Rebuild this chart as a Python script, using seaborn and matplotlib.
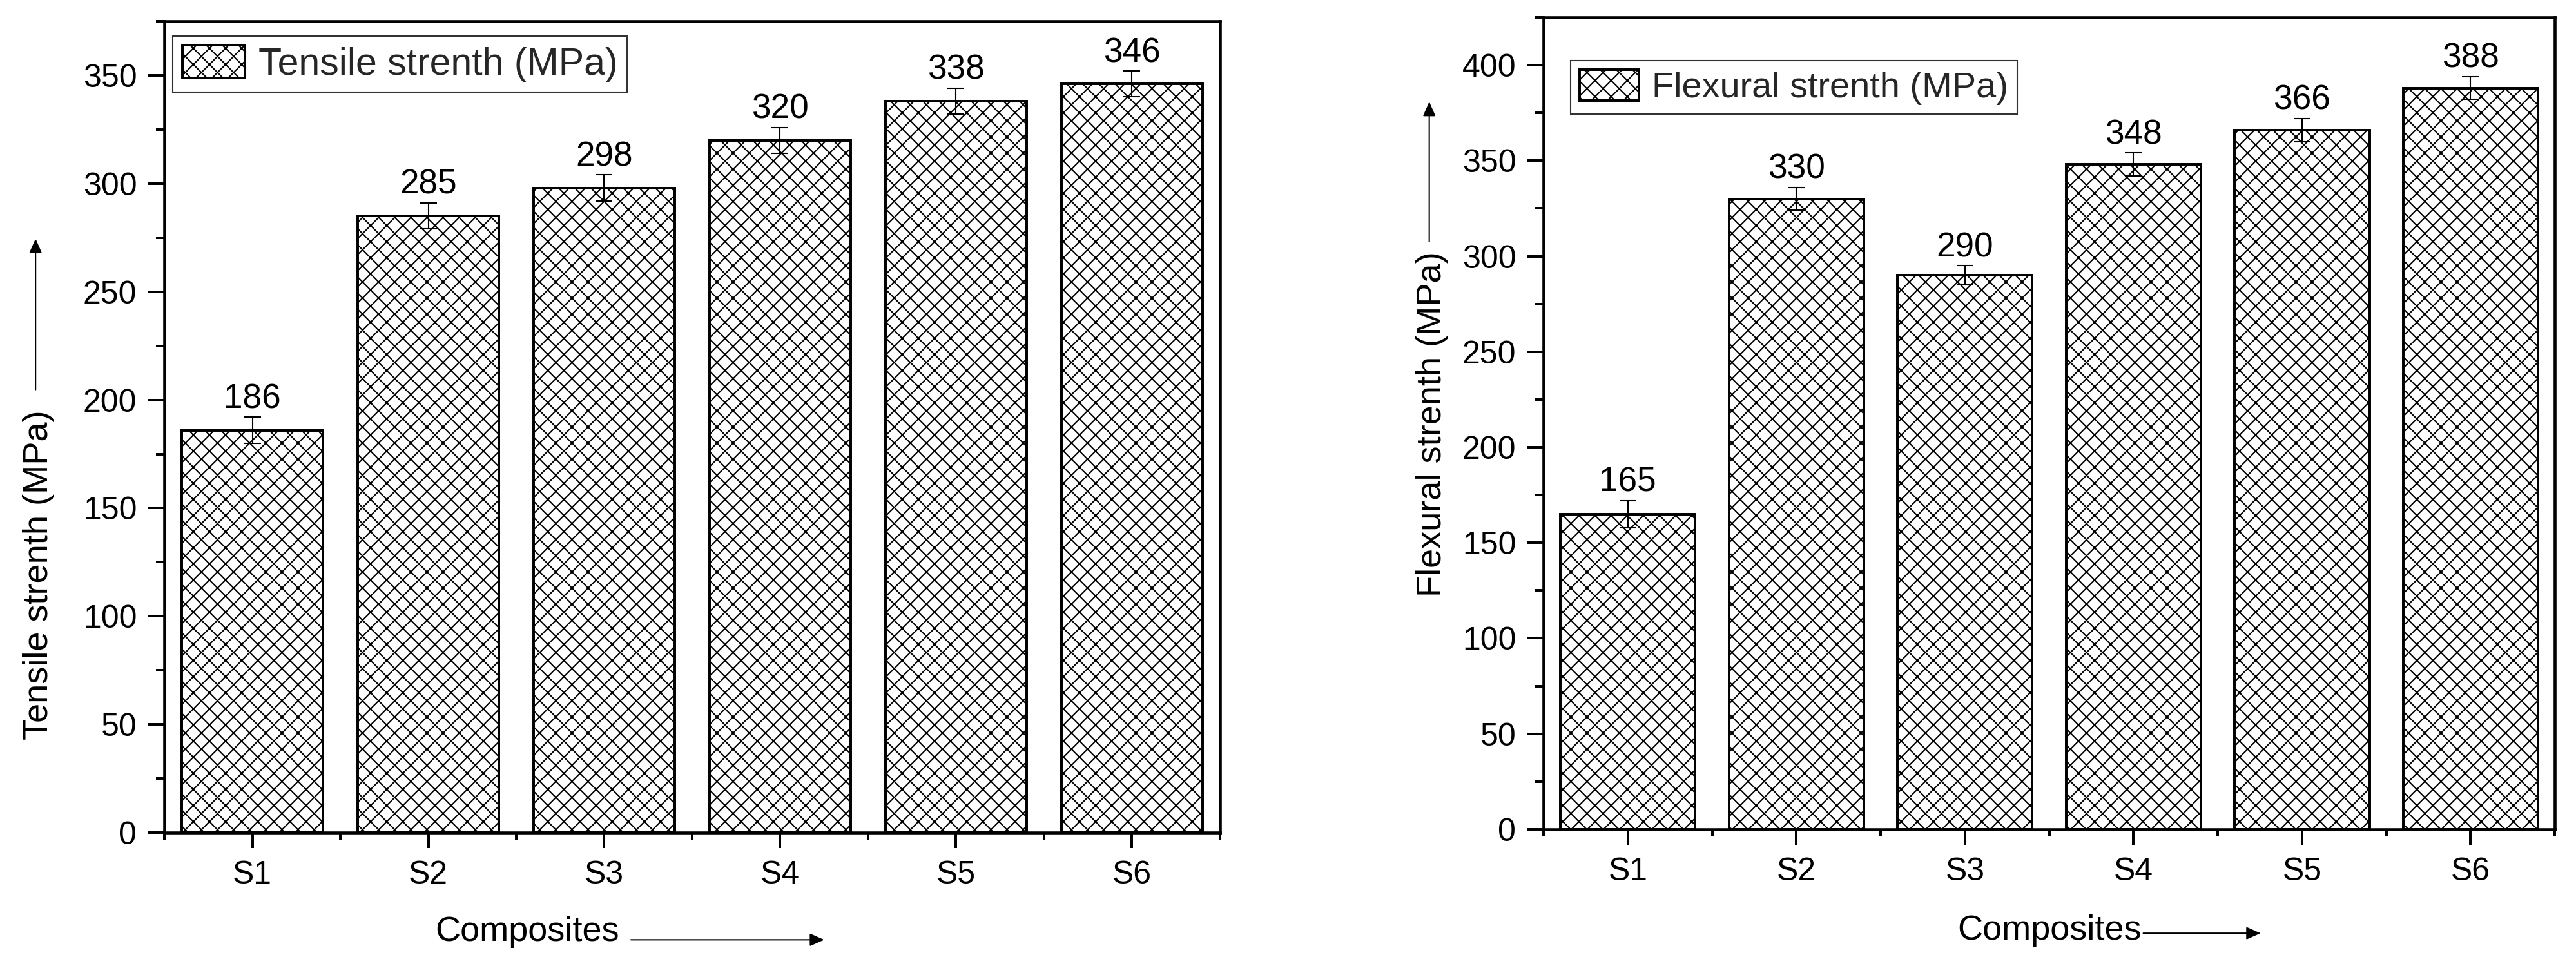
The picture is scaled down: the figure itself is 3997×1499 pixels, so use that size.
import matplotlib
matplotlib.use("Agg")
import matplotlib.pyplot as plt
import seaborn as sns
import pandas as pd
from matplotlib.ticker import MultipleLocator, FixedLocator

# ---- data ----
composites = ["S1", "S2", "S3", "S4", "S5", "S6"]
tensile = [186, 285, 298, 320, 338, 346]
tensile_err = [6, 6, 6, 6, 6, 6]
flexural = [165, 330, 290, 348, 366, 388]
flexural_err = [7, 6, 5, 6, 6, 6]

tensile_label = "Tensile strenth (MPa)"
flexural_label = "Flexural strenth (MPa)"
x_label = "Composites"

sns.set_theme(style="ticks")
plt.rcParams["font.family"] = ["Liberation Sans", "DejaVu Sans"]
plt.rcParams["hatch.linewidth"] = 1.0
plt.rcParams["hatch.color"] = "black"

DPI = 150
fig = plt.figure(figsize=(3997 / DPI, 1499 / DPI), dpi=DPI)
ax1 = fig.add_axes([0.0638, 0.138, 0.4098, 0.840])
ax2 = fig.add_axes([0.5992, 0.1415, 0.3926, 0.8405])

TICK_FS = 24
VAL_FS = 25.5
LAB_FS = 26
HATCH = "xx"


def panel(ax, vals, errs, legend_label, ylab, ymax, ylab_xy, yarrow, xlab_xy, xarrow,
          leg_xy, leg_fs):
    df = pd.DataFrame({"Composite": composites, "Value": vals})
    sns.barplot(data=df, x="Composite", y="Value", ax=ax, color="white",
                edgecolor="black", linewidth=1.9, width=0.8, hatch=HATCH,
                errorbar=None, label=legend_label)
    for p in ax.patches:
        p.set_facecolor("white")
        p.set_hatch(HATCH)
    xs = list(range(len(composites)))
    ax.errorbar(xs, vals, yerr=errs, fmt="none", ecolor="black",
                elinewidth=1.0, capsize=6.2, capthick=1.0, zorder=5)
    for x, v, e in zip(xs, vals, errs):
        ax.annotate(f"{v}", xy=(x, v + e), xytext=(0, 1.5), textcoords="offset points",
                    ha="center", va="bottom", fontsize=VAL_FS, color="black")
    ax.set_xlim(-0.5, 5.5)
    ax.set_ylim(0, ymax)
    ax.yaxis.set_major_locator(MultipleLocator(50))
    ax.yaxis.set_minor_locator(MultipleLocator(25))
    ax.xaxis.set_minor_locator(FixedLocator([i - 0.5 for i in range(len(composites) + 1)]))
    ax.tick_params(axis="both", which="major", direction="out", length=12.5, width=1.9,
                   labelsize=TICK_FS, color="black", labelcolor="black", pad=8)
    ax.tick_params(axis="both", which="minor", direction="out", length=6.2, width=1.9,
                   color="black")
    ax.tick_params(axis="x", which="major", length=11.5, pad=9)
    ax.tick_params(axis="x", which="minor", length=5.3)
    for s in ax.spines.values():
        s.set_visible(True)
        s.set_linewidth(2.2)
        s.set_color("black")
    ax.set_ylabel(ylab, fontsize=LAB_FS, color="black")
    ax.yaxis.set_label_coords(*ylab_xy)
    ax.set_xlabel("")
    ax.text(xlab_xy[0], xlab_xy[1], x_label, transform=ax.transAxes, ha="center",
            va="center", fontsize=LAB_FS, color="black")
    arrow_kw = dict(arrowstyle="-|>,head_length=0.45,head_width=0.2", color="black",
                    lw=1.0, mutation_scale=20, shrinkA=0, shrinkB=0)
    ax.annotate("", xy=(yarrow[0], yarrow[2]), xytext=(yarrow[0], yarrow[1]),
                xycoords="axes fraction", textcoords="axes fraction", arrowprops=arrow_kw,
                annotation_clip=False)
    ax.annotate("", xy=(xarrow[1], xarrow[2]), xytext=(xarrow[0], xarrow[2]),
                xycoords="axes fraction", textcoords="axes fraction", arrowprops=arrow_kw,
                annotation_clip=False)
    leg = ax.legend(loc="upper left", bbox_to_anchor=leg_xy, fontsize=leg_fs, frameon=True,
                    fancybox=False, edgecolor="black", handlelength=1.65, handleheight=0.95,
                    borderpad=0.25, handletextpad=0.35, borderaxespad=0)
    leg.get_frame().set_linewidth(1.0)
    for h in leg.legend_handles:
        h.set_hatch(HATCH)
        h.set_edgecolor("black")
        h.set_facecolor("white")
        h.set_linewidth(1.9)


panel(ax1, tensile, tensile_err, tensile_label, tensile_label, 375,
      (-0.104, 0.318), (-0.122, 0.546, 0.732), (0.344, -0.122), (0.442, 0.625, -0.132),
      (0.008, 0.982), 28.3)
panel(ax2, flexural, flexural_err, flexural_label, flexural_label, 425,
      (-0.094, 0.499), (-0.113, 0.724, 0.896), (0.5, -0.125), (0.593, 0.709, -0.128),
      (0.027, 0.947), 26.8)

fig.savefig("out.png", dpi=DPI, facecolor="white")
